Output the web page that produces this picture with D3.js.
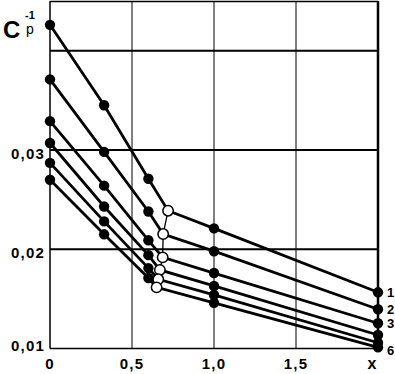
<!DOCTYPE html>
<html><head><meta charset="utf-8">
<script src="https://cdn.jsdelivr.net/npm/d3@7"></script>
<style>body{margin:0;background:#fff}svg{display:block}text{font-family:"Liberation Sans",Arial,sans-serif;font-weight:bold;fill:#000}</style>
</head><body><svg id="c" width="395" height="374"></svg>
<script>
// data
const seriesNames = ["1","2","3","4","5","6"];
const xFilled = [0, 0.33, 0.6, 1.0, 2.0];
const s1 = [0.0426, 0.0345, 0.0271, 0.0221, 0.01566];
const s2 = [0.0371, 0.0298, 0.0238, 0.0198, 0.01395];
const s3 = [0.0329, 0.0264, 0.0209, 0.0176, 0.01254];
const s4 = [0.0307, 0.0243, 0.0194, 0.0163, 0.01136];
const s5 = [0.0287, 0.0228, 0.0181, 0.0154, 0.01058];
const s6 = [0.0270, 0.0215, 0.0171, 0.0146, 0.01012];
const openX = [0.72, 0.69, 0.687, 0.67, 0.66, 0.65];
const openY = [0.02388, 0.02153, 0.01918, 0.01791, 0.01697, 0.01616];
const xTicks = [0, 0.5, 1.0, 1.5];
const xTickLabels = ["0", "0,5", "1,0", "1,5"];
const yTicks = [0.01, 0.02, 0.03];
const yTickLabels = ["0,01", "0,02", "0,03"];
const yGrid = [0.02, 0.03, 0.04];
const xGrid = [0.5, 1.0, 1.5];
const endLabels = ["1", "2", "3", "6"];
const endLabelIdx = [0, 1, 2, 5];

const svg = d3.select("#c");
const L = 50, R = 378, T = 1, B = 348.5;
const x = d3.scaleLinear().domain([0, 2]).range([L, R]);
const y = d3.scaleLinear().domain([0.01, 0.045]).range([B, T]);

svg.append("rect").attr("width",395).attr("height",374).attr("fill","#fff");

// grid
svg.selectAll(".hg").data(yGrid).join("line")
  .attr("x1", L).attr("x2", R).attr("y1", d=>y(d)).attr("y2", d=>y(d))
  .attr("stroke","#000").attr("stroke-width",2);
svg.selectAll(".vg").data(xGrid).join("line")
  .attr("x1", d=>x(d)).attr("x2", d=>x(d)).attr("y1", T).attr("y2", B)
  .attr("stroke","#000").attr("stroke-width",1);
// frame
svg.append("line").attr("x1",L).attr("x2",R).attr("y1",T+0.5).attr("y2",T+0.5).attr("stroke","#000").attr("stroke-width",1.5);
svg.append("line").attr("x1",R).attr("x2",R).attr("y1",T).attr("y2",B).attr("stroke","#000").attr("stroke-width",2.5);
svg.append("line").attr("x1",L).attr("x2",L).attr("y1",T).attr("y2",B).attr("stroke","#000").attr("stroke-width",1.5);
svg.append("line").attr("x1",L).attr("x2",R).attr("y1",B).attr("y2",B).attr("stroke","#000").attr("stroke-width",1.5);

// series lines
const all = [s1, s2, s3, s4, s5, s6];
const pts = all.map((s, i) => {
  const p = s.map((v, j) => ({x: xFilled[j], y: v, open: false}));
  p.splice(3, 0, {x: openX[i], y: openY[i], open: true});
  return p;
});
const line = d3.line().x(d=>x(d.x)).y(d=>y(d.y));
svg.selectAll(".sl").data(pts).join("path")
  .attr("d", line).attr("fill","none").attr("stroke","#000").attr("stroke-width",2.8);
// connector through open circles
const openPts = openX.map((v,i)=>({x:v, y:openY[i]}));
svg.append("path").attr("d", line(openPts)).attr("fill","none").attr("stroke","#000").attr("stroke-width",1.3);

// markers
pts.forEach(p => {
  svg.selectAll(null).data(p).join("circle")
    .attr("cx", d=>x(d.x)).attr("cy", d=>y(d.y))
    .attr("r", 5.2)
    .attr("fill", d=>d.open ? "#fff" : "#000")
    .attr("stroke","#000").attr("stroke-width", d=>d.open ? 1.5 : 0);
});

// tick labels
svg.selectAll(".xt").data(xTicks).join("text")
  .attr("x", d=>x(d)).attr("y", 369).attr("text-anchor","middle")
  .attr("font-size", 15).attr("letter-spacing", 1.2).text((d,i)=>xTickLabels[i]);
svg.append("text").attr("x", 372).attr("y", 369).attr("text-anchor","middle").attr("font-size",16).text("x");
svg.selectAll(".yt").data(yTicks).join("text")
  .attr("x", 45).attr("y", d=> d===0.01 ? 351 : y(d)+9).attr("text-anchor","end")
  .attr("font-size", 15).attr("letter-spacing", 1.2).text((d,i)=>yTickLabels[i]);

// end labels
svg.selectAll(".el").data(endLabelIdx).join("text")
  .attr("x", 387).attr("y", (d,i)=> d===5 ? 355 : y(all[d][4]) + 5)
  .attr("font-size", 13).text((d,i)=>endLabels[i]);

// axis title
svg.append("text").attr("x", 3).attr("y", 38).attr("font-size", 24).text("C");
svg.append("text").attr("x", 26).attr("y", 34).attr("font-size", 14).style("font-weight","normal").text("p");
svg.append("text").attr("x", 25).attr("y", 19).attr("font-size", 11).text("-1");
</script></body></html>
